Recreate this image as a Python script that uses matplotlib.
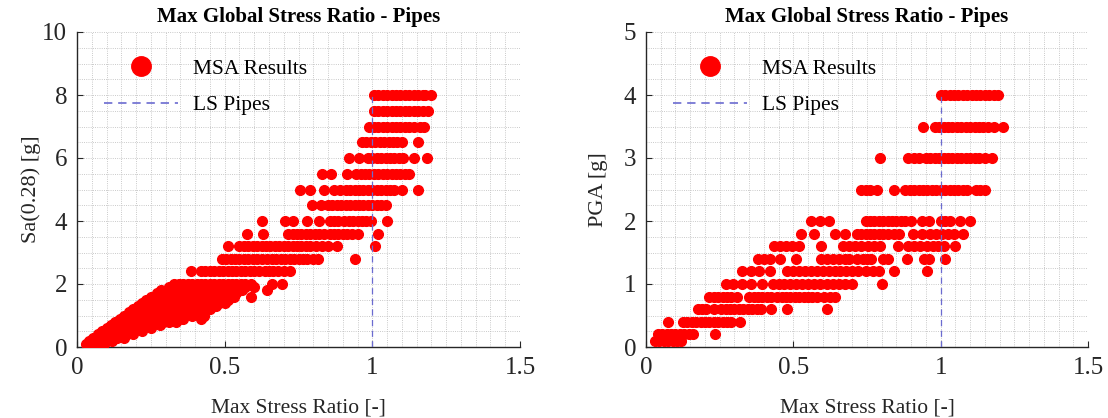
import matplotlib
matplotlib.use("Agg")
import matplotlib.pyplot as plt
from matplotlib.lines import Line2D
from matplotlib.ticker import MultipleLocator

plt.rcParams['font.family'] = ['Liberation Serif', 'DejaVu Serif']

# ---------------- Left panel: Sa(0.28) levels and Max Stress Ratio values ----------------
sa_levels = [8.0, 7.5, 7.0, 6.5, 6.0, 5.5, 5.0, 4.5, 4.0, 3.6, 3.2, 2.8, 2.4, 2.0,
             1.9, 1.8, 1.7, 1.6, 1.5, 1.4, 1.3, 1.2, 1.1, 1.0, 0.9, 0.8, 0.7, 0.6,
             0.5, 0.4, 0.3, 0.2, 0.1]

sa_800 = [1.005, 1.02, 1.035, 1.05, 1.065, 1.08, 1.095, 1.11, 1.125, 1.14, 1.155, 1.17, 1.18, 1.20]
sa_750 = [1.005, 1.02, 1.035, 1.05, 1.065, 1.08, 1.095, 1.11, 1.125, 1.14, 1.155, 1.17, 1.19]
sa_700 = [0.99, 1.005, 1.02, 1.035, 1.05, 1.065, 1.08, 1.095, 1.11, 1.125, 1.14, 1.16, 1.175]
sa_650 = [0.965, 0.98, 0.995, 1.01, 1.025, 1.04, 1.055, 1.07, 1.085, 1.10, 1.155]
sa_600 = [0.92, 0.955, 0.985, 1.0, 1.015, 1.03, 1.045, 1.06, 1.075, 1.09, 1.105, 1.14, 1.185]
sa_550 = [0.83, 0.86, 0.915, 0.945, 0.96, 0.975, 0.99, 1.005, 1.02, 1.035, 1.05, 1.065,
          1.08, 1.095, 1.11, 1.125]
sa_500 = [0.755, 0.79, 0.835, 0.87, 0.89, 0.91, 0.925, 0.94, 0.955, 0.97, 0.985, 1.0,
          1.015, 1.03, 1.045, 1.06, 1.075, 1.10, 1.155]
sa_450 = [0.795, 0.825, 0.85, 0.865, 0.88, 0.895, 0.91, 0.925, 0.94, 0.955, 0.97, 0.985,
          1.0, 1.015, 1.03, 1.045]
sa_400 = [0.625, 0.705, 0.73, 0.78, 0.82, 0.855, 0.87, 0.885, 0.905, 0.92, 0.935, 0.95,
          0.965, 0.98, 0.995, 1.05]
sa_360 = [0.575, 0.63, 0.715, 0.73, 0.745, 0.76, 0.775, 0.79, 0.805, 0.82, 0.835, 0.855,
          0.87, 0.885, 0.90, 0.915, 0.93, 0.95, 1.02]
sa_320 = [0.51, 0.55, 0.565, 0.58, 0.595, 0.61, 0.625, 0.64, 0.655, 0.67, 0.685, 0.70,
          0.715, 0.73, 0.745, 0.76, 0.775, 0.79, 0.81, 0.83, 0.85, 0.88, 1.01]
sa_280 = [0.49, 0.505, 0.52, 0.535, 0.55, 0.565, 0.58, 0.595, 0.61, 0.625, 0.645, 0.66,
          0.675, 0.69, 0.705, 0.72, 0.735, 0.75, 0.765, 0.78, 0.80, 0.815, 0.94]
sa_240 = [0.385, 0.42, 0.435, 0.45, 0.465, 0.48, 0.495, 0.51, 0.525, 0.54, 0.555, 0.57,
          0.585, 0.60, 0.615, 0.635, 0.65, 0.665, 0.68, 0.70, 0.72]
sa_200 = [0.33, 0.345, 0.36, 0.375, 0.39, 0.405, 0.42, 0.435, 0.45, 0.465, 0.48, 0.495,
          0.51, 0.525, 0.54, 0.555, 0.57, 0.59, 0.66, 0.695]
sa_190 = [0.31, 0.33, 0.35, 0.37, 0.39, 0.41, 0.43, 0.45, 0.47, 0.49, 0.51, 0.53, 0.55, 0.57, 0.60]
sa_180 = [0.285, 0.305, 0.325, 0.345, 0.365, 0.385, 0.405, 0.425, 0.445, 0.465, 0.485,
          0.505, 0.525, 0.545, 0.56, 0.645]
sa_170 = [0.27, 0.29, 0.31, 0.33, 0.35, 0.37, 0.39, 0.41, 0.43, 0.45, 0.47, 0.49, 0.51, 0.53, 0.54]
sa_160 = [0.25, 0.27, 0.29, 0.31, 0.33, 0.35, 0.37, 0.39, 0.41, 0.43, 0.45, 0.47, 0.49,
          0.51, 0.53, 0.59]
sa_150 = [0.235, 0.255, 0.275, 0.295, 0.315, 0.335, 0.355, 0.375, 0.395, 0.415, 0.435,
          0.455, 0.475, 0.495, 0.51]
sa_140 = [0.22, 0.24, 0.26, 0.28, 0.30, 0.32, 0.34, 0.36, 0.38, 0.40, 0.42, 0.44, 0.46, 0.48, 0.50]
sa_130 = [0.205, 0.225, 0.245, 0.265, 0.285, 0.305, 0.325, 0.345, 0.365, 0.385, 0.405,
          0.425, 0.445, 0.47]
sa_120 = [0.19, 0.21, 0.23, 0.25, 0.27, 0.29, 0.31, 0.33, 0.35, 0.37, 0.39, 0.41, 0.43, 0.45]
sa_110 = [0.175, 0.195, 0.215, 0.235, 0.255, 0.275, 0.295, 0.315, 0.335, 0.355, 0.375,
          0.395, 0.42]
sa_100 = [0.16, 0.18, 0.20, 0.22, 0.24, 0.26, 0.28, 0.30, 0.32, 0.34, 0.36, 0.39, 0.43]
sa_090 = [0.145, 0.165, 0.185, 0.205, 0.225, 0.245, 0.265, 0.285, 0.305, 0.325, 0.345, 0.36, 0.42]
sa_080 = [0.13, 0.15, 0.17, 0.19, 0.21, 0.23, 0.25, 0.27, 0.29, 0.31, 0.335]
sa_070 = [0.115, 0.135, 0.155, 0.175, 0.195, 0.215, 0.235, 0.255, 0.28]
sa_060 = [0.10, 0.12, 0.14, 0.16, 0.18, 0.20, 0.22, 0.25]
sa_050 = [0.085, 0.105, 0.125, 0.145, 0.165, 0.185, 0.22]
sa_040 = [0.07, 0.09, 0.11, 0.13, 0.15, 0.17, 0.19]
sa_030 = [0.055, 0.075, 0.095, 0.115, 0.135, 0.16]
sa_020 = [0.04, 0.06, 0.08, 0.10, 0.12]
sa_010 = [0.03, 0.05, 0.07, 0.09]

sa_ratios = [sa_800, sa_750, sa_700, sa_650, sa_600, sa_550, sa_500, sa_450, sa_400,
             sa_360, sa_320, sa_280, sa_240, sa_200, sa_190, sa_180, sa_170, sa_160,
             sa_150, sa_140, sa_130, sa_120, sa_110, sa_100, sa_090, sa_080, sa_070,
             sa_060, sa_050, sa_040, sa_030, sa_020, sa_010]

# ---------------- Right panel: PGA levels and Max Stress Ratio values ----------------
pga_levels = [4.0, 3.5, 3.0, 2.5, 2.0, 1.8, 1.6, 1.4, 1.2, 1.0, 0.8, 0.6, 0.4, 0.2, 0.1]

pga_400 = [1.0, 1.015, 1.03, 1.045, 1.06, 1.075, 1.09, 1.105, 1.12, 1.135, 1.15, 1.165, 1.18, 1.195]
pga_350 = [0.94, 0.98, 0.995, 1.01, 1.025, 1.04, 1.055, 1.07, 1.085, 1.10, 1.115, 1.13,
           1.145, 1.16, 1.18, 1.21]
pga_300 = [0.795, 0.89, 0.91, 0.925, 0.95, 0.965, 0.98, 0.995, 1.01, 1.025, 1.04, 1.055,
           1.07, 1.085, 1.10, 1.115, 1.13, 1.15, 1.175]
pga_250 = [0.73, 0.745, 0.76, 0.785, 0.84, 0.88, 0.895, 0.91, 0.925, 0.94, 0.955, 0.97,
           0.985, 1.0, 1.015, 1.03, 1.045, 1.06, 1.075, 1.09, 1.12, 1.135, 1.15]
pga_200 = [0.56, 0.59, 0.62, 0.745, 0.76, 0.775, 0.79, 0.805, 0.82, 0.835, 0.85, 0.865,
           0.88, 0.90, 0.935, 0.96, 1.0, 1.015, 1.03, 1.065, 1.10]
pga_180 = [0.525, 0.57, 0.64, 0.675, 0.715, 0.73, 0.745, 0.76, 0.775, 0.79, 0.805, 0.82,
           0.84, 0.86, 0.905, 0.935, 0.965, 0.985, 1.005, 1.025, 1.045, 1.075]
pga_160 = [0.435, 0.455, 0.475, 0.495, 0.52, 0.595, 0.67, 0.69, 0.71, 0.73, 0.755, 0.775,
           0.795, 0.855, 0.89, 0.91, 0.93, 0.955, 0.975, 0.99, 1.01, 1.05]
pga_140 = [0.38, 0.40, 0.42, 0.455, 0.51, 0.595, 0.615, 0.635, 0.655, 0.675, 0.69, 0.715,
           0.735, 0.75, 0.765, 0.805, 0.82, 0.885, 0.945, 0.96, 1.015]
pga_120 = [0.325, 0.355, 0.385, 0.42, 0.48, 0.50, 0.52, 0.54, 0.56, 0.58, 0.60, 0.62,
           0.64, 0.66, 0.68, 0.70, 0.72, 0.745, 0.77, 0.79, 0.84, 0.955]
pga_100 = [0.27, 0.295, 0.325, 0.355, 0.395, 0.43, 0.45, 0.47, 0.49, 0.51, 0.53, 0.55,
           0.57, 0.59, 0.615, 0.635, 0.655, 0.675, 0.70, 0.80]
pga_080 = [0.215, 0.23, 0.245, 0.26, 0.275, 0.29, 0.31, 0.35, 0.365, 0.38, 0.395, 0.41,
           0.425, 0.445, 0.46, 0.475, 0.49, 0.505, 0.52, 0.535, 0.55, 0.565, 0.58, 0.605,
           0.625, 0.64]
pga_060 = [0.175, 0.19, 0.205, 0.23, 0.255, 0.27, 0.285, 0.30, 0.315, 0.33, 0.345, 0.36,
           0.375, 0.39, 0.425, 0.48, 0.613]
pga_040 = [0.075, 0.125, 0.14, 0.155, 0.17, 0.185, 0.20, 0.215, 0.23, 0.245, 0.26, 0.275,
           0.29, 0.32]
pga_020 = [0.04, 0.055, 0.07, 0.085, 0.10, 0.115, 0.13, 0.145, 0.16, 0.235]
pga_010 = [0.03, 0.045, 0.06, 0.075, 0.09, 0.105, 0.12]

pga_ratios = [pga_400, pga_350, pga_300, pga_250, pga_200, pga_180, pga_160, pga_140,
              pga_120, pga_100, pga_080, pga_060, pga_040, pga_020, pga_010]

ls_limit = 1.0
x_ticks = [0, 0.5, 1, 1.5]
x_tick_labels = ['0', '0.5', '1', '1.5']

title_text = 'Max Global Stress Ratio - Pipes'
xlabel_text = 'Max Stress Ratio [-]'

RED = '#ff0000'
LS_COLOR = '#6b6bd0'
GRID_COLOR = '#b8b8b8'

fig = plt.figure(figsize=(11.08, 4.18), dpi=100)
W, H = 1108.0, 418.0
ax1 = fig.add_axes([77 / W, 71 / H, 443 / W, 315 / H])
ax2 = fig.add_axes([646 / W, 71 / H, 442 / W, 315 / H])


def draw(ax, levels, ratios, ymax, ystep, yminor, ylabel, ylab_x):
    for lev, xs in zip(levels, ratios):
        ax.plot(xs, [lev] * len(xs), linestyle='none', marker='o', ms=7.0,
                color=RED, mec=RED, zorder=3)
    ax.plot([ls_limit, ls_limit], [0, levels[0]], linestyle=(0, (5, 3.5)),
            color=LS_COLOR, lw=0.9, zorder=4)
    ax.set_xlim(0, 1.5)
    ax.set_ylim(0, ymax)
    ax.set_xticks(x_ticks)
    ax.set_xticklabels(x_tick_labels)
    ax.set_yticks([v for v in range(0, int(ymax) + 1, ystep)])
    ax.xaxis.set_minor_locator(MultipleLocator(0.05))
    ax.yaxis.set_minor_locator(MultipleLocator(yminor))
    ax.grid(True, which='both', linestyle=':', color=GRID_COLOR, lw=0.6, zorder=0)
    ax.set_axisbelow(True)
    for s in ('top', 'right'):
        ax.spines[s].set_visible(False)
    for s in ('left', 'bottom'):
        ax.spines[s].set_color('#262626')
        ax.spines[s].set_linewidth(1.0)
    ax.tick_params(which='major', direction='in', length=4, width=0.8,
                   labelsize=18, pad=7, colors='#262626', labelcolor='#262626')
    ax.tick_params(which='minor', length=0)
    ax.set_title(title_text, fontsize=15, fontweight='bold', pad=7, color='black')
    ax.set_xlabel(xlabel_text, fontsize=15.5, color='#262626')
    ax.xaxis.set_label_coords(0.5, -0.162)
    ax.set_ylabel(ylabel, fontsize=16, color='#262626')
    ax.yaxis.set_label_coords(ylab_x, 0.5)
    handles = [Line2D([], [], linestyle='none', marker='o', ms=14, color=RED, mec=RED),
               Line2D([], [], linestyle=(0, (5, 3.5)), color=LS_COLOR, lw=1.2)]
    ax.legend(handles, ['MSA Results', 'LS Pipes'], loc='upper left',
              bbox_to_anchor=(0.062, 0.915), frameon=False, fontsize=15.5,
              handlelength=3.4, handletextpad=0.7, labelspacing=0.75,
              borderpad=0, borderaxespad=0)


draw(ax1, sa_levels, sa_ratios, 10, 2, 0.5, 'Sa(0.28) [g]', -0.082)
draw(ax2, pga_levels, pga_ratios, 5, 1, 0.25, 'PGA [g]', -0.086)

fig.savefig('out.png', dpi=100)
